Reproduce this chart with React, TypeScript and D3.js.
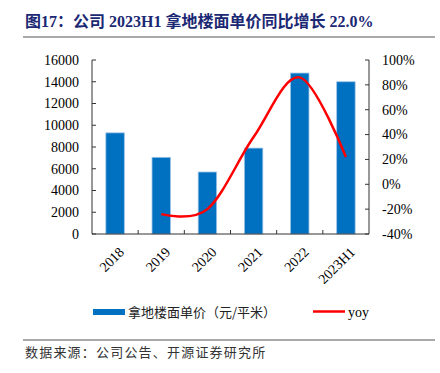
import * as d3 from "d3";

const categories = ["2018", "2019", "2020", "2021", "2022", "2023H1"];
const price = [9300, 7050, 5700, 7900, 14800, 14000];
const yoy = [null, -24, -20, 38, 86, 22];
const leftTicks = [0, 2000, 4000, 6000, 8000, 10000, 12000, 14000, 16000];
const rightTicks = [-40, -20, 0, 20, 40, 60, 80, 100];

const W = 440;
const H = 373;
const plot = { left: 92, right: 369, top: 60, bottom: 234 };

const serif = "'Liberation Serif', 'Times New Roman', serif";
const cjk = "'Noto Sans CJK SC', sans-serif";

const App = () => {
  const x = d3.scaleBand().domain(categories).range([plot.left, plot.right]);
  const yL = d3.scaleLinear().domain([0, 16000]).range([plot.bottom, plot.top]);
  const yR = d3.scaleLinear().domain([-40, 100]).range([plot.bottom, plot.top]);
  const barW = x.bandwidth() * 0.4;

  const pts = categories
    .map((c, i) => ({ c, v: yoy[i] }))
    .filter((d) => d.v !== null) as { c: string; v: number }[];

  const line = d3
    .line<{ c: string; v: number }>()
    .x((d) => x(d.c)! + x.bandwidth() / 2)
    .y((d) => yR(d.v))
    .curve(d3.curveCatmullRom.alpha(0));

  return (
    <svg width={W} height={H} style={{ position: "absolute", left: 0, top: 0, background: "#fff" }}>
      {/* title */}
      <text x={25} y={27} fontSize={16} fontWeight="bold" fill="#1b2873" fontFamily={`${serif}, ${cjk}`}>
        图17：公司 2023H1 拿地楼面单价同比增长 22.0%
      </text>
      <line x1={23} x2={435} y1={37} y2={37} stroke="#8c8c8c" strokeWidth={1.5} />

      {/* bars */}
      {categories.map((c, i) => (
        <rect
          key={c}
          x={x(c)! + (x.bandwidth() - barW) / 2}
          y={yL(price[i])}
          width={barW}
          height={plot.bottom - yL(price[i])}
          fill="#0070c0"
          stroke="#9dc3e6"
          strokeWidth={0.8}
        />
      ))}

      {/* line */}
      <path d={line(pts) || ""} fill="none" stroke="#ff0000" strokeWidth={2.5} />

      {/* axes */}
      <g stroke="#333" strokeWidth={1}>
        <line x1={plot.left} x2={plot.left} y1={plot.top} y2={plot.bottom} />
        <line x1={plot.right} x2={plot.right} y1={plot.top} y2={plot.bottom} />
        <line x1={plot.left} x2={plot.right} y1={plot.bottom} y2={plot.bottom} />
        {leftTicks.map((t) => (
          <line key={t} x1={plot.left} x2={plot.left + 4} y1={yL(t)} y2={yL(t)} />
        ))}
        {rightTicks.map((t) => (
          <line key={t} x1={plot.right - 4} x2={plot.right} y1={yR(t)} y2={yR(t)} />
        ))}
        {categories.slice(1).map((c) => (
          <line key={c} x1={x(c)!} x2={x(c)!} y1={plot.bottom - 4} y2={plot.bottom} />
        ))}
      </g>

      <g fontFamily={serif} fontSize={14} fill="#000">
        {leftTicks.map((t) => (
          <text key={t} x={79} y={yL(t)} dy="0.35em" textAnchor="end">
            {t}
          </text>
        ))}
        {rightTicks.map((t) => (
          <text key={t} x={382} y={yR(t)} dy="0.35em" textAnchor="start">
            {t}%
          </text>
        ))}
        {categories.map((c) => {
          const cx = x(c)! + x.bandwidth() / 2 + 3;
          const cy = 246;
          return (
            <text key={c} x={cx} y={cy} textAnchor="end" dy="0.7em" transform={`rotate(-45 ${cx} ${cy})`}>
              {c}
            </text>
          );
        })}
      </g>

      {/* legend */}
      <rect x={93} y={309} width={32} height={6} fill="#0070c0" />
      <text x={128} y={312} dy="0.35em" fontSize={13} fontFamily={cjk} fill="#222">
        拿地楼面单价（元/平米）
      </text>
      <line x1={313} x2={345} y1={311.5} y2={311.5} stroke="#ff0000" strokeWidth={2.5} />
      <text x={348} y={312} dy="0.35em" fontSize={14} fontFamily={serif} fill="#000">
        yoy
      </text>

      {/* source */}
      <line x1={23} x2={435} y1={340} y2={340} stroke="#8c8c8c" strokeWidth={1.5} />
      <text x={25} y={352} dy="0.35em" fontSize={13} letterSpacing={1.2} fontFamily={cjk} fill="#333">
        数据来源：公司公告、开源证券研究所
      </text>
    </svg>
  );
};

export default App;
